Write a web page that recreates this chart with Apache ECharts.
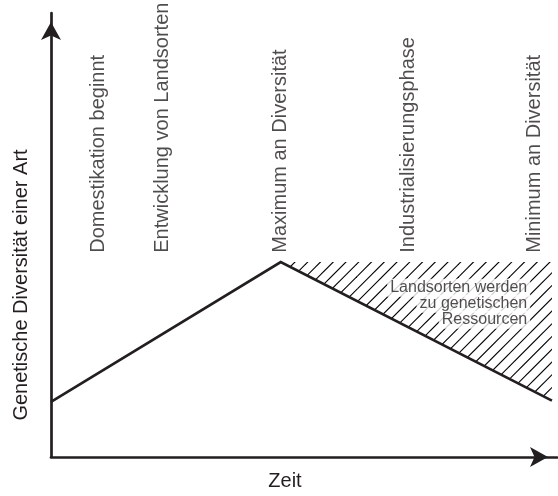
<!DOCTYPE html>
<html><head><meta charset="utf-8">
<script src="https://cdn.jsdelivr.net/npm/echarts@6/dist/echarts.min.js"></script>
<style>html,body{margin:0;padding:0;background:#fff}#c{width:558px;height:496px}</style>
</head><body><div id="c"></div>
<script>
// ---- data ----
const timeX = [0, 45.4, 99.0];
const diversity = [12.4, 43.9, 12.7];
const eventX = [9.3, 22.1, 45.4, 70.6, 95.6];
const eventY = [46, 46, 46, 46, 46];
const eventLabels = ['Domestikation beginnt', 'Entwicklung von Landsorten', 'Maximum an Diversität', 'Industrialisierungsphase', 'Minimum an Diversität'];
const noteLines = ['Landsorten werden', 'zu genetischen', 'Ressourcen'];
const notePos = [94.7, 34.5];
const yName = 'Genetische Diversität einer Art';
const xName = 'Zeit';

// ---- styles ----
const INK = '#231f20';
const FONT = '"Liberation Sans", Arial, Helvetica, sans-serif';

function hatchPattern() {
  const s = 51, step = 12.75, phase = 8.75, cv = document.createElement('canvas');
  cv.width = s; cv.height = s;
  const g = cv.getContext('2d');
  g.strokeStyle = '#000'; g.lineWidth = 1.15;
  for (let c = phase - 2 * s; c < 3 * s; c += step) {
    g.beginPath(); g.moveTo(-3, c + 3); g.lineTo(c + 3, -3); g.stroke();
  }
  return { image: cv, repeat: 'repeat' };
}

const chart = echarts.init(document.getElementById('c'), null, { renderer: 'canvas' });
const axisCommon = {
  type: 'value', min: 0, max: 100,
  axisTick: { show: false }, axisLabel: { show: false }, splitLine: { show: false },
  axisLine: { show: true, symbol: ['none', 'arrow'], symbolSize: [15, 18], symbolOffset: [0, -9],
    lineStyle: { color: INK, width: 2.7 } },
  nameLocation: 'middle',
  nameTextStyle: { fontFamily: FONT, fontSize: 20, color: INK }
};
chart.setOption({
  animation: false,
  backgroundColor: '#fff',
  grid: { left: 51, right: 1, top: 13, bottom: 31 },
  xAxis: Object.assign({}, axisCommon, {
    name: xName, nameGap: 14,
    nameTextStyle: { fontFamily: FONT, fontSize: 20, color: INK, padding: [0, 38, 0, 0] }
  }),
  yAxis: Object.assign({}, axisCommon, {
    name: yName, nameGap: 20, nameRotate: 90,
    nameTextStyle: { fontFamily: FONT, fontSize: 20, color: INK, padding: [0, 100, 0, 0] }
  }),
  series: [
    {
      type: 'line', z: 1, silent: true, symbol: 'none', clip: false,
      data: timeX.slice(1).map((x, i) => [x, diversity[i + 1]]),
      lineStyle: { width: 0 },
      areaStyle: { origin: diversity[1], color: hatchPattern(), opacity: 1 }
    },
    {
      type: 'line', z: 3, silent: true, symbol: 'none', clip: false,
      data: timeX.map((x, i) => [x, diversity[i]]),
      lineStyle: { color: INK, width: 2.7, join: 'miter' }
    },
    {
      type: 'scatter', z: 5, silent: true, symbolSize: 0,
      data: eventX.map((x, i) => ({ value: [x, eventY[i]], name: eventLabels[i] })),
      label: { show: true, position: 'inside', rotate: 90, align: 'left', verticalAlign: 'middle',
        formatter: p => p.name, fontFamily: FONT, fontSize: 20, color: INK }
    },
    {
      type: 'scatter', z: 6, silent: true, symbolSize: 0,
      data: [{ value: notePos }],
      label: { show: true, position: 'inside', align: 'right', verticalAlign: 'middle',
        lineHeight: 16,
        formatter: () => noteLines.map(t => '{a|' + t + '}').join('\n'),
        rich: { a: { fontFamily: FONT, fontSize: 16, color: INK, backgroundColor: '#fff', padding: [1, 3], lineHeight: 16 } } }
    }
  ]
});
</script></body></html>
